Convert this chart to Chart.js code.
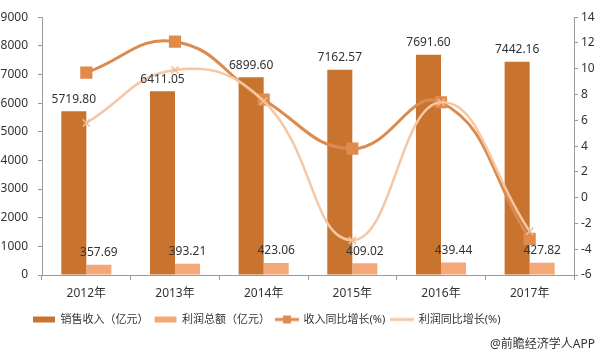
<!DOCTYPE html>
<html>
<head>
<meta charset="utf-8">
<script src="https://cdn.jsdelivr.net/npm/chart.js@4/dist/chart.umd.min.js"></script>
<style>
  html, body { margin: 0; padding: 0; background: #fff; }
  #wrap { width: 600px; height: 356px; position: relative; }
</style>
</head>
<body>
<div id="wrap"><canvas id="c" width="600" height="356"></canvas></div>
<script>
const categories = ['2012年', '2013年', '2014年', '2015年', '2016年', '2017年'];
const salesRevenue = [5719.80, 6411.05, 6899.60, 7162.57, 7691.60, 7442.16];
const totalProfit = [357.69, 393.21, 423.06, 409.02, 439.44, 427.82];
const revenueGrowth = [9.7, 12.1, 7.6, 3.8, 7.4, -3.2];
const profitGrowth = [5.8, 9.9, 7.5, -3.3, 7.4, -2.6];
const seriesNames = ['销售收入（亿元）', '利润总额（亿元）', '收入同比增长(%)', '利润同比增长(%)'];
const leftTicks = { min: 0, max: 9000, step: 1000 };
const rightTicks = { min: -6, max: 14, step: 2 };
const sourceText = '@前瞻经济学人APP';

const FONT = '"Noto Sans", "Noto Sans CJK SC", sans-serif';
const TXT = '#333333';
const AXIS = '#9a9a9a';
const LEGEND_LEFT = 27;

function legendLineIcon(color, lineWidth, markerColor) {
  const c = document.createElement('canvas');
  c.width = 24; c.height = 10;
  const g = c.getContext('2d');
  g.strokeStyle = color;
  g.lineWidth = lineWidth;
  g.beginPath(); g.moveTo(0, 5); g.lineTo(24, 5); g.stroke();
  if (markerColor) { g.fillStyle = markerColor; g.fillRect(8, 1, 8, 8); }
  return c;
}

const extras = {
  id: 'extras',
  afterLayout(chart) {
    const lg = chart.legend;
    if (lg) lg.left = LEGEND_LEFT;
  },
  afterDatasetsDraw(chart) {
    const ctx = chart.ctx;
    ctx.save();
    ctx.font = '12px ' + FONT;
    ctx.fillStyle = TXT;
    ctx.textAlign = 'center';
    ctx.textBaseline = 'middle';
    [0, 1].forEach(di => {
      const meta = chart.getDatasetMeta(di);
      const data = chart.data.datasets[di].data;
      meta.data.forEach((el, i) => {
        ctx.fillText(data[i].toFixed(2), el.x, el.y - 12);
      });
    });
    ctx.restore();
  },
  afterDraw(chart) {
    const ctx = chart.ctx;
    ctx.save();
    ctx.font = '12px ' + FONT;
    ctx.fillStyle = TXT;
    ctx.textAlign = 'right';
    ctx.textBaseline = 'middle';
    ctx.fillText(sourceText, 595, 345);
    ctx.restore();
  }
};

new Chart(document.getElementById('c'), {
  data: {
    labels: categories,
    datasets: [
      { type: 'bar', label: seriesNames[0], data: salesRevenue, yAxisID: 'y',
        backgroundColor: '#c8742f', borderWidth: 0, order: 2,
        categoryPercentage: 0.565, barPercentage: 1 },
      { type: 'bar', label: seriesNames[1], data: totalProfit, yAxisID: 'y',
        backgroundColor: '#f4a877', borderWidth: 0, order: 3,
        categoryPercentage: 0.565, barPercentage: 1 },
      { type: 'line', label: seriesNames[2], data: revenueGrowth, yAxisID: 'y1',
        borderColor: '#dc8a4e', backgroundColor: '#dc8a4e', borderWidth: 3,
        tension: 0.45, pointStyle: 'rect', pointRadius: 6.5,
        pointBackgroundColor: '#e08a4c', pointBorderColor: '#e08a4c', order: 1 },
      { type: 'line', label: seriesNames[3], data: profitGrowth, yAxisID: 'y1',
        borderColor: '#f5c7a5', backgroundColor: '#f5c7a5', borderWidth: 2.5,
        tension: 0.45, pointStyle: 'crossRot', pointRadius: 5, pointBorderWidth: 1.5,
        pointBorderColor: '#f3bb94', order: 0 }
    ]
  },
  options: {
    responsive: false,
    animation: false,
    layout: { padding: { left: 0, right: 0, top: 10, bottom: 21 } },
    plugins: {
      tooltip: { enabled: false },
      legend: {
        position: 'bottom',
        align: 'start',
        labels: {
          sort: (a, b) => a.datasetIndex - b.datasetIndex,
          usePointStyle: true,
          pointStyleWidth: 22,
          boxWidth: 22, boxHeight: 6, padding: 6,
          color: TXT, font: { size: 11, family: FONT },
          generateLabels(chart) {
            const items = Chart.defaults.plugins.legend.labels.generateLabels(chart);
            items.forEach(it => {
              const ds = chart.data.datasets[it.datasetIndex];
              if (ds.type === 'line') {
                it.pointStyle = legendLineIcon(ds.borderColor, 3,
                  ds.pointStyle === 'rect' ? ds.pointBackgroundColor : null);
              } else {
                it.pointStyle = 'rect';
                it.lineWidth = 0;
              }
            });
            return items;
          }
        }
      }
    },
    scales: {
      x: {
        offset: true,
        grid: { display: true, drawOnChartArea: false, tickLength: 5, color: AXIS, offset: true },
        border: { display: true, color: AXIS },
        ticks: { color: TXT, font: { size: 12, family: FONT }, padding: 6, maxRotation: 0 },
        afterFit(s) { s.height = 33; }
      },
      y: {
        position: 'left',
        min: leftTicks.min, max: leftTicks.max,
        grid: { display: true, drawOnChartArea: false, tickLength: 4, color: AXIS },
        border: { display: true, color: AXIS },
        ticks: { stepSize: leftTicks.step, color: TXT, font: { size: 12, family: FONT }, padding: 10,
                 callback: v => String(v) },
        afterFit(s) { s.width = 42; }
      },
      y1: {
        position: 'right',
        min: rightTicks.min, max: rightTicks.max,
        grid: { display: true, drawOnChartArea: false, tickLength: 4, color: AXIS },
        border: { display: true, color: AXIS },
        ticks: { stepSize: rightTicks.step, color: TXT, font: { size: 12, family: FONT }, padding: 3,
                 callback: v => String(v) },
        afterFit(s) { s.width = 26; }
      }
    }
  },
  plugins: [extras]
});
</script>
</body>
</html>
